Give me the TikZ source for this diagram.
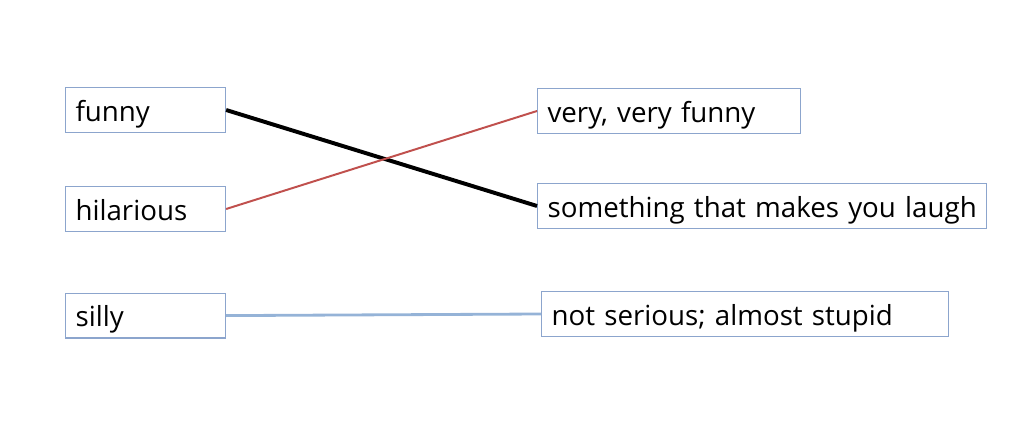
\documentclass[tikz,border=0pt]{standalone}
\usepackage{fontspec}
\setmainfont{Open Sans}
\definecolor{boxblue}{RGB}{140,165,205}
\definecolor{linered}{RGB}{192,80,77}
\definecolor{lineblue}{RGB}{149,179,215}
\tikzset{
  word/.style={draw=boxblue, line width=0.8pt, anchor=west, inner xsep=0.25cm,
    text width=#1, align=left, minimum height=1.12cm,
    text height=18pt, text depth=2pt,
    font=\fontsize{19.7}{21}\selectfont},
}
\begin{document}
\begin{tikzpicture}

\useasboundingbox (0,0) rectangle (25.4,10.8);

% words
\node[word=3.5cm] (funny) at (1.625, 8.05) {funny};
\node[word=3.5cm] (hil) at (1.625, 5.575) {hilarious};
\node[word=3.5cm] (silly) at (1.625, 2.91) {silly};

% meanings
\node[word=10.725cm] (laugh) at (13.425, 5.65) {\mbox{something that makes you laugh}};
\node[word=6.075cm] (vfunny) at (13.425, 8.025) {very, very funny};
\node[word=9.675cm] (stupid) at (13.525, 2.95) {not serious; almost stupid};

% word -- meaning
\draw[line width=2.8pt] (funny.east) -- (laugh.west);
\draw[linered, line width=1.4pt] (hil.east) -- (vfunny.west);
\draw[lineblue, line width=2pt] (silly.east) -- (stupid.west);

\end{tikzpicture}
\end{document}
